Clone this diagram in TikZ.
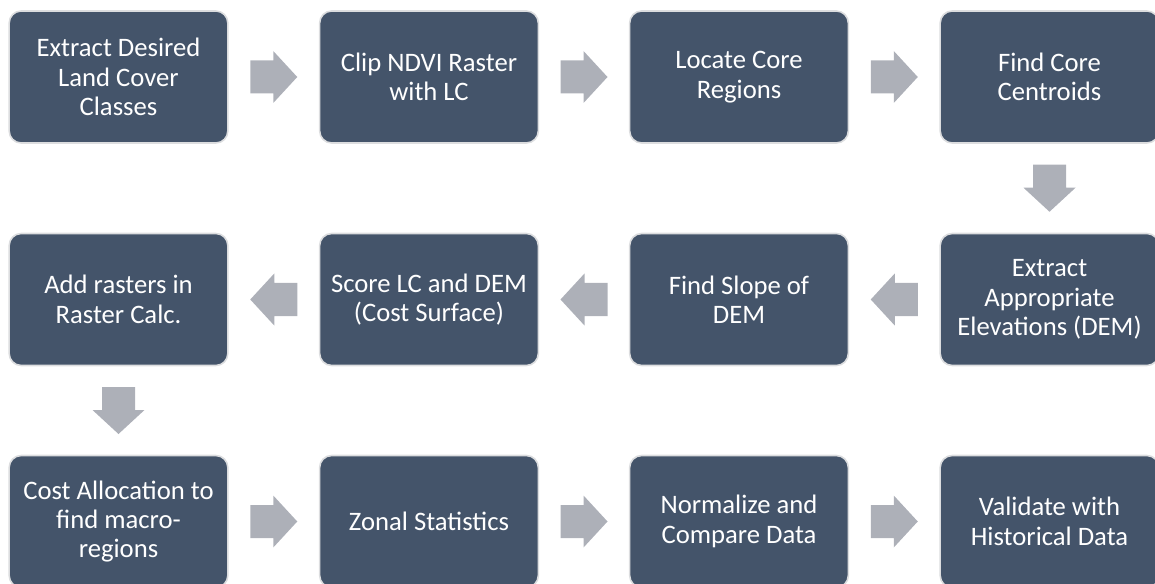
\documentclass[tikz,border=0pt]{standalone}
\usepackage{fontspec}
\setmainfont{Carlito}
\usetikzlibrary{calc}
\definecolor{boxfill}{HTML}{44546A}
\definecolor{boxline}{HTML}{DCDDDF}
\definecolor{arrowgray}{HTML}{ADB0B8}
\begin{document}
\begin{tikzpicture}[x=0.75pt,y=-0.75pt,
  stepbox/.style={draw=boxline, fill=boxfill, line width=1.2pt,
    rounded corners=9pt, minimum width=164pt, minimum height=99pt,
    inner sep=0pt, align=center, text=white,
    font=\fontsize{20}{22}\selectfont},
  blockarrow/.pic={\fill[arrowgray] (-23.5,-16.5) -- (-0.5,-16.5) -- (-0.5,-26)
     -- (23.5,0) -- (-0.5,26) -- (-0.5,16.5) -- (-23.5,16.5) -- cycle;}]
\useasboundingbox (0,0) rectangle (1155,584);
\clip (0,0) rectangle (1155,584);
% row 1
\node[stepbox] (a1) at (118.5,77) {Extract Desired\\Land Cover\\Classes};
\node[stepbox] (a2) at (429,77) {Clip NDVI Raster\\with LC};
\node[stepbox] (a3) at (739,77) {Locate Core\\Regions};
\node[stepbox] (a4) at (1049.5,77) {Find Core\\Centroids};
% row 2
\node[stepbox] (b4) at (1049.5,299.5) {Extract\\Appropriate\\Elevations (DEM)};
\node[stepbox] (b3) at (739,299.5) {Find Slope of\\DEM};
\node[stepbox] (b2) at (429,299.5) {Score LC and DEM\\(Cost Surface)};
\node[stepbox] (b1) at (118.5,299.5) {Add rasters in\\Raster Calc.};
% row 3
\node[stepbox] (c1) at (118.5,521.5) {Cost Allocation to\\find macro-\\regions};
\node[stepbox] (c2) at (429,521.5) {Zonal Statistics};
\node[stepbox] (c3) at (739,521.5) {Normalize and\\Compare Data};
\node[stepbox] (c4) at (1049.5,521.5) {Validate with\\Historical Data};
% arrows
\path ($(a1.east)!0.5!(a2.west)$) pic {blockarrow};
\path ($(a2.east)!0.5!(a3.west)$) pic {blockarrow};
\path ($(a3.east)!0.5!(a4.west)$) pic {blockarrow};
\path ($(a4.south)!0.5!(b4.north)$) pic[rotate=-90] {blockarrow};
\path ($(b4.west)!0.5!(b3.east)$) pic[rotate=180] {blockarrow};
\path ($(b3.west)!0.5!(b2.east)$) pic[rotate=180] {blockarrow};
\path ($(b2.west)!0.5!(b1.east)$) pic[rotate=180] {blockarrow};
\path ($(b1.south)!0.5!(c1.north)$) pic[rotate=-90] {blockarrow};
\path ($(c1.east)!0.5!(c2.west)$) pic {blockarrow};
\path ($(c2.east)!0.5!(c3.west)$) pic {blockarrow};
\path ($(c3.east)!0.5!(c4.west)$) pic {blockarrow};
\end{tikzpicture}
\end{document}
